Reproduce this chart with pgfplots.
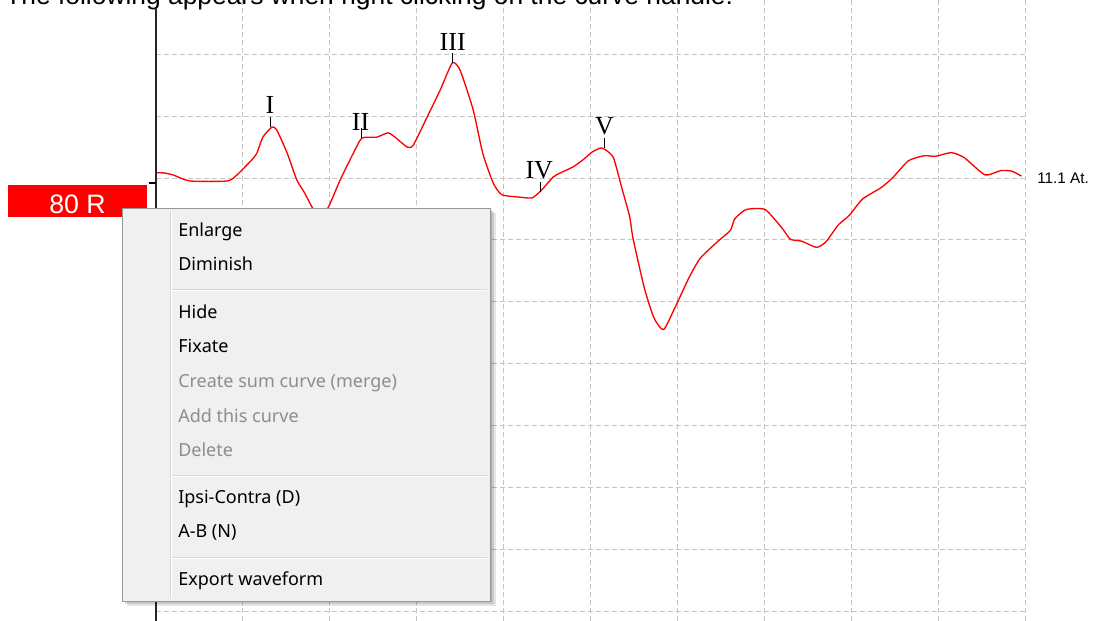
\documentclass[border=0pt]{standalone}
\usepackage{pgfplots}
\pgfplotsset{compat=1.18}
\usepackage{fontspec}
\setmainfont{Liberation Sans}
\newfontfamily\menufamily{Noto Sans}
\newfontfamily\romanfamily{Liberation Serif}
\definecolor{gridgray}{HTML}{C4C4C4}
\definecolor{menubg}{HTML}{F0F0F0}
\definecolor{menuborder}{HTML}{979797}
\definecolor{sepgray}{HTML}{D7D7D7}
\definecolor{disabled}{HTML}{8D8D8D}
\definecolor{ured}{HTML}{FF0000}
\pgfplotstableread{
x y
0.00 0.086
0.10 0.081
0.20 0.048
0.39 -0.048
0.82 -0.048
0.93 0.048
1.10 0.29
1.16 0.40
1.23 0.66
1.335 0.824
1.39 0.775
1.51 0.40
1.62 -0.03
1.71 -0.24
1.80 -0.48
1.89 -0.60
1.98 -0.48
2.12 -0.03
2.27 0.40
2.37 0.646
2.54 0.66
2.67 0.73
2.75 0.66
2.89 0.50
2.96 0.53
3.12 0.985
3.27 1.42
3.41 1.86
3.50 1.74
3.65 1.10
3.76 0.40
3.88 -0.08
3.98 -0.27
4.19 -0.31
4.33 -0.32
4.44 -0.19
4.57 0.016
4.65 0.08
4.80 0.18
4.91 0.29
5.02 0.42
5.13 0.485
5.26 0.34
5.36 -0.16
5.45 -0.62
5.49 -0.98
5.62 -1.78
5.73 -2.26
5.84 -2.45
5.97 -2.10
6.13 -1.62
6.26 -1.30
6.46 -1.03
6.61 -0.845
6.66 -0.66
6.79 -0.51
7.01 -0.51
7.21 -0.82
7.30 -0.99
7.43 -1.02
7.60 -1.12
7.71 -1.03
7.85 -0.76
7.98 -0.60
8.13 -0.34
8.35 -0.15
8.48 0.01
8.66 0.28
8.84 0.36
8.97 0.35
9.15 0.41
9.30 0.33
9.54 0.05
9.72 0.12
9.85 0.11
9.96 0.03
}\wave
\begin{document}
\begin{tikzpicture}
\useasboundingbox (0,0) rectangle (822pt,-465.75pt);
\clip (0,0) rectangle (822pt,-465.75pt);
\begin{axis}[
  at={(117pt,-465.75pt)}, anchor=south west,
  scale only axis, width=651.75pt, height=465.75pt,
  xmin=0, xmax=10, ymin=-7.157, ymax=2.876,
  axis line style={draw=none},
  xtick={1,...,10}, ytick={-7,...,2},
  xticklabels={}, yticklabels={},
  major tick length=0pt,
  grid=major,
  grid style={gridgray, line width=0.75pt, dash pattern=on 3.5pt off 2.5pt},
  clip=false,
]
\addplot[ured, line width=1pt, line join=round, smooth, tension=0.35] table[x=x,y=y] {\wave};
% peak markers
\addplot[black, line width=0.8pt] coordinates {(1.32,0.824) (1.32,0.985)};
\addplot[black, line width=0.8pt] coordinates {(2.37,0.646) (2.37,0.81)};
\addplot[black, line width=0.8pt] coordinates {(3.414,1.86) (3.414,2.02)};
\addplot[black, line width=0.8pt] coordinates {(4.427,-0.22) (4.427,-0.06)};
\addplot[black, line width=0.8pt] coordinates {(5.16,0.485) (5.16,0.646)};
\node[anchor=base, inner sep=0pt, font=\romanfamily\fontsize{19.5}{20}\selectfont] at (axis cs:1.31,1.05) {I};
\node[anchor=base, inner sep=0pt, font=\romanfamily\fontsize{19.5}{20}\selectfont] at (axis cs:2.355,0.76) {II};
\node[anchor=base, inner sep=0pt, font=\romanfamily\fontsize{19.5}{20}\selectfont] at (axis cs:3.414,2.056) {III};
\node[anchor=base, inner sep=0pt, font=\romanfamily\fontsize{19.5}{20}\selectfont] at (axis cs:4.41,-0.005) {IV};
\node[anchor=base, inner sep=0pt, font=\romanfamily\fontsize{19.5}{20}\selectfont] at (axis cs:5.16,0.695) {V};
\end{axis}
\begin{scope}[x=0.75pt, y=-0.75pt]
% top text (cut off as in the screenshot)
\node[anchor=base west, inner sep=0pt, font=\fontsize{19.8}{22}\selectfont] at (5,4.5) {The following appears when right clicking on the curve handle:};
% axis line and handle
\draw[black!85, line width=1pt] (156,8) -- (156,621);
\draw[black, line width=0.8pt] (149,183) -- (156,183);
% right label
\node[anchor=base west, inner sep=0pt, font=\fontsize{11.5}{12}\selectfont] at (1037,183) {11.1 At.};
% red label box
\fill[ured] (8,185) rectangle (147,217);
\node[anchor=base, inner sep=0pt, text=white, font=\fontsize{20}{22}\selectfont] at (77.5,213) {80 R};
% menu shadow
\fill[black, opacity=0.10] (127,213) rectangle (496,606);
\fill[black, opacity=0.12] (125,211) rectangle (494,604);
\fill[black, opacity=0.15] (124,210) rectangle (492,602);
% menu
\filldraw[fill=menubg, draw=menuborder, line width=0.75pt] (122,208) rectangle (490,601);
\draw[sepgray, line width=0.75pt] (170,211) -- (170,598);
\draw[white, line width=0.75pt] (171,211) -- (171,598);
\foreach \yy in {289,475,557} {
  \draw[sepgray, line width=0.75pt] (172,\yy) -- (487,\yy);
  \draw[white, line width=0.75pt] (172,\yy+1) -- (487,\yy+1);
}
\begin{scope}[every node/.style={anchor=base west, inner sep=0pt, font=\menufamily\fontsize{13.5}{15}\selectfont}]
\node at (178,236) {Enlarge};
\node at (178,270.5) {Diminish};
\node at (178,318) {Hide};
\node at (178,352.5) {Fixate};
\node[text=disabled] at (178,387.5) {Create sum curve (merge)};
\node[text=disabled] at (178,422) {Add this curve};
\node[text=disabled] at (178,456.5) {Delete};
\node at (178,503) {Ipsi-Contra (D)};
\node at (178,537.5) {A-B (N)};
\node at (178,585) {Export waveform};
\end{scope}
\end{scope}
\end{tikzpicture}
\end{document}
